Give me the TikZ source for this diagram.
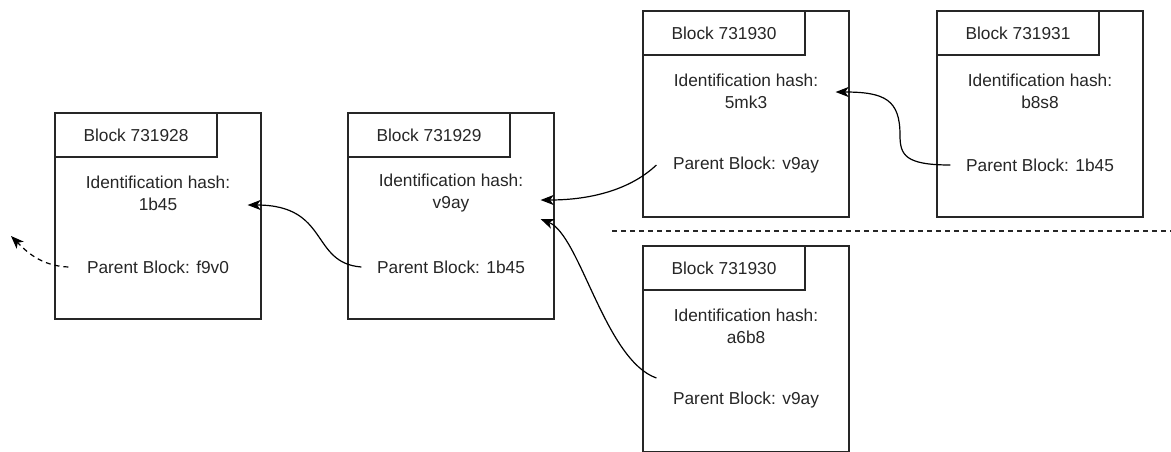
\documentclass[tikz,border=0pt]{standalone}
\usepackage{fontspec}
\setmainfont{Liberation Sans}
\usetikzlibrary{arrows.meta,calc}

\tikzset{
	block/.style={draw, minimum width=206pt, minimum height=206pt, inner sep=0pt},
	header/.style={draw, minimum width=162pt, minimum height=44pt, inner sep=0pt},
	field/.style={minimum width=178pt, inner sep=0pt, align=center},
	link/.style={draw=black, -{Stealth[length=13pt,width=10pt,inset=3.5pt]}},
}

\begin{document}
\begin{tikzpicture}[x=1pt, y=-1pt, line width=1.2pt, color=black!85,
	font=\fontsize{17.3pt}{22pt}\selectfont]
	\useasboundingbox (0,0) rectangle (1171,451);
	\clip (0,0) rectangle (1171,451);

	\node[block] (b1) at (158,216) {};
	\node[header] (t1) at (136,135) {Block 731928};
	\node[field] (h1) at (158,193) {Identification hash:\\1b45};
	\node[field] (p1) at (158,267) {Parent Block: f9v0};

	\node[block] (b2) at (451,216) {};
	\node[header] (t2) at (429,135) {Block 731929};
	\node[field] (h2) at (451,193) {Identification hash:\\v9ay};
	\node[field] (p2) at (451,267) {Parent Block: 1b45};

	\node[block] (b3) at (746,114) {};
	\node[header] (t3) at (724,33) {Block 731930};
	\node[field] (h3) at (746,91) {Identification hash:\\5mk3};
	\node[field] (p3) at (746,165) {Parent Block: v9ay};

	\node[block] (b4) at (1040,114) {};
	\node[header] (t4) at (1018,33) {Block 731931};
	\node[field] (h4) at (1040,91) {Identification hash:\\b8s8};
	\node[field] (p4) at (1040,165) {Parent Block: 1b45};

	\node[block] (b5) at (746,349) {};
	\node[header] (t5) at (724,268) {Block 731930};
	\node[field] (h5) at (746,326) {Identification hash:\\a6b8};
	\node[field] (p5) at (746,400) {Parent Block: v9ay};

	% fork separator
	\draw [dash pattern=on 5pt off 4pt] (612,231) -- (1171,231);

	% parent links
	\coordinate (prev) at (11,236);
	\draw [link, dash pattern=on 5pt off 4pt] (p1.west) .. controls (40,266) and (25,250) .. (prev);
	\draw [link] (p2.west) .. controls (310,263) and (330,205) .. ($(h1.east)+(0,12)$);
	\draw [link] (p3.west) .. controls (630,190) and (590,200) .. ($(h2.east)+(0,7)$);
	\draw [link] ($(p5.west)+(0,-22)$) .. controls (605,360) and (580,235) .. ($(h2.east)+(0,26)$);
	\draw [link] (p4.west) .. controls (905,165) and (900,155) .. (900,135)
		.. controls (900,100) and (885,92) .. ($(h3.east)+(0,1)$);
\end{tikzpicture}
\end{document}
